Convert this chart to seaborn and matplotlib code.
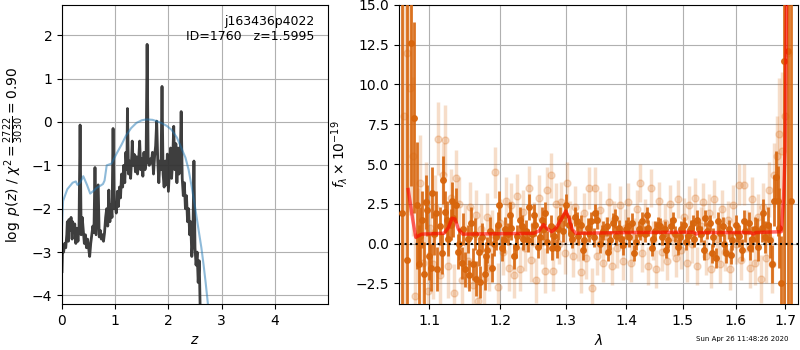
import matplotlib
matplotlib.use('Agg')
import matplotlib.pyplot as plt
import matplotlib.ticker as mticker
import numpy as np
import pandas as pd
import seaborn as sns

# p(z) panel
z_grid = [0.00, 0.01, 0.03, 0.05, 0.07, 0.09, 0.10, 0.12, 0.13, 0.15, 0.17, 0.19, 0.20, 0.22,
          0.24, 0.26, 0.28, 0.30, 0.32, 0.34, 0.36, 0.38, 0.40, 0.42, 0.44, 0.46, 0.48, 0.50,
          0.52, 0.54, 0.56, 0.58, 0.60, 0.62, 0.64, 0.68, 0.70, 0.72, 0.74, 0.76, 0.78, 0.80,
          0.82, 0.84, 0.86, 0.88, 0.90, 0.92, 0.94, 0.96, 0.98, 1.00, 1.02, 1.04, 1.06, 1.08,
          1.10, 1.12, 1.14, 1.16, 1.18, 1.20, 1.22, 1.23, 1.25, 1.27, 1.29, 1.31, 1.32, 1.34,
          1.36, 1.38, 1.40, 1.42, 1.44, 1.46, 1.48, 1.50, 1.52, 1.54, 1.56, 1.58, 1.60, 1.62,
          1.64, 1.66, 1.68, 1.70, 1.72, 1.74, 1.76, 1.78, 1.80, 1.82, 1.84, 1.86, 1.88, 1.90,
          1.92, 1.94, 1.96, 1.98, 2.00, 2.02, 2.04, 2.06, 2.08, 2.10, 2.12, 2.14, 2.16, 2.18,
          2.20, 2.22, 2.24, 2.26, 2.28, 2.30, 2.32, 2.34, 2.36, 2.38, 2.40, 2.42, 2.44, 2.46,
          2.48, 2.50, 2.52, 2.54, 2.56, 2.58, 2.60]
log_pz = [-3.45, -2.95, -3.00, -2.80, -2.90, -2.60, -2.30, -2.75, -2.25, -2.50, -2.20, -2.70, -2.30, -2.50,
          -2.35, -2.80, -2.45, -2.75, -2.40, -0.07, -2.60, -2.20, -2.50, -2.80, -2.60, -2.90, -2.70, -2.90,
          -3.10, -2.80, -2.60, -2.40, -2.55, -1.05, -2.60, -1.45, -2.65, -2.50, -2.70, -2.60, -2.75, -2.55,
          -2.20, -2.00, -2.40, -1.57, -2.30, -1.90, -2.20, -0.15, -2.00, -1.90, -2.10, -1.60, -1.95, -1.50,
          -1.75, -1.20, -1.50, -1.00, -1.40, -0.70, -1.10, 0.31, -1.20, -0.90, -1.30, -0.80, -0.44, -1.00,
          -0.75, -1.15, -0.80, -1.20, -0.90, -0.44, -1.10, -0.85, -1.25, -0.70, -1.10, -0.95, 1.79, -0.90,
          -1.00, -0.85, -0.95, -0.70, -1.20, -0.80, -0.55, 0.02, -0.90, -1.40, -0.90, -1.10, 0.82, -1.20,
          -1.50, -0.90, -1.45, -0.74, -1.60, -1.10, -0.60, -1.30, -0.90, -0.10, -1.10, -0.50, -1.40, -0.60,
          -1.20, -1.00, 0.24, -1.30, -1.70, -1.40, -2.00, -1.70, -2.30, -2.00, -2.60, -2.30, -3.10, -2.70,
          -0.90, -2.90, -3.30, -3.00, -3.70, -3.20, -4.50]

z_prior = [0.00, 0.02, 0.10, 0.20, 0.26, 0.29, 0.34, 0.40, 0.47, 0.53, 0.60, 0.65, 0.72, 0.77, 0.80,
           0.84, 0.93, 1.03, 1.12, 1.20, 1.30, 1.40, 1.50, 1.59, 1.70, 1.78, 1.88, 1.97, 2.06,
           2.16, 2.25, 2.32, 2.38, 2.44, 2.50, 2.57, 2.62, 2.66, 2.70, 2.76]
log_prior = [-2.40, -1.82, -1.55, -1.40, -1.37, -1.45, -1.40, -1.25, -1.45, -1.65, -1.58, -1.52, -1.47, -1.43, -1.35,
             -1.00, -0.96, -0.72, -0.52, -0.32, -0.14, -0.02, 0.04, 0.06, 0.05, 0.02, -0.03, -0.09, -0.18,
             -0.36, -0.62, -0.82, -1.10, -1.51, -1.95, -2.51, -2.90, -3.28, -3.70, -4.40]

# spectrum panel: binned (dark) points
dark_wave = [1.064, 1.070, 1.076, 1.079, 1.083, 1.086, 1.090, 1.093, 1.097, 1.100, 1.104, 1.107, 1.111,
             1.115, 1.118, 1.122, 1.126, 1.129, 1.133, 1.137, 1.141, 1.145, 1.149, 1.153, 1.157, 1.161,
             1.165, 1.169, 1.173, 1.177, 1.181, 1.185, 1.190, 1.194, 1.198, 1.203, 1.207, 1.211, 1.216,
             1.220, 1.225, 1.229, 1.234, 1.238, 1.243, 1.247, 1.252, 1.257, 1.262, 1.266, 1.271, 1.276,
             1.281, 1.286, 1.291, 1.296, 1.300, 1.305, 1.310, 1.315, 1.320, 1.325, 1.330, 1.335, 1.340,
             1.346, 1.351, 1.356, 1.361, 1.367, 1.372, 1.377, 1.383, 1.388, 1.394, 1.399, 1.405, 1.410,
             1.416, 1.421, 1.427, 1.433, 1.438, 1.444, 1.450, 1.456, 1.462, 1.467, 1.473, 1.479, 1.485,
             1.491, 1.497, 1.503, 1.509, 1.515, 1.521, 1.527, 1.533, 1.539, 1.545, 1.551, 1.557, 1.563,
             1.569, 1.575, 1.582, 1.588, 1.594, 1.600, 1.607, 1.613, 1.619, 1.626, 1.632, 1.639, 1.645,
             1.652, 1.658, 1.665, 1.672, 1.678, 1.685, 1.692, 1.698, 1.705, 1.712,
             1.088, 1.095, 1.102, 1.109, 1.117, 1.124, 1.131, 1.139, 1.147, 1.155, 1.163, 1.171,
             1.179, 1.187, 1.196, 1.205, 1.214, 1.223, 1.232, 1.241, 1.250, 1.259, 1.268, 1.278,
             1.288, 1.298, 1.308, 1.318, 1.328, 1.338, 1.348, 1.358, 1.369, 1.380, 1.391, 1.402,
             1.413, 1.424, 1.435, 1.447, 1.459, 1.470, 1.482, 1.494, 1.506, 1.518, 1.530, 1.542,
             1.554, 1.566, 1.578, 1.591, 1.603, 1.616, 1.629, 1.642, 1.655, 1.668, 1.681, 1.688]
dark_flux = [1.9, -1.0, 12.6, 7.9, 2.4, -1.3, 1.5, -1.9, 2.1, -0.8, 3.2, 0.6, -1.6,
             1.1, 4.0, 2.0, 0.3, 1.2, 1.6, 2.4, 0.0, -1.2, -1.6, 0.3, 1.3, -1.3,
             -2.2, -0.5, 0.4, -1.9, -0.4, 0.8, 0.0, 0.4, 2.4, -0.3, 0.9, 0.6, 1.0,
             -0.8, 0.5, 1.5, 0.3, 0.8, 2.3, 0.6, 1.2, -0.2, 1.5, 0.9, 0.1, 1.1,
             0.5, -0.3, 1.6, 0.8, 2.4, 1.2, 0.3, 1.7, 0.5, 1.2, 0.2, 1.0, 1.4,
             0.4, 1.5, 0.0, 0.8, 1.1, 0.2, 1.3, 0.5, 1.0, -0.1, 0.9, 0.4, 1.3,
             0.1, 0.9, 1.4, 0.6, 1.0, -0.3, 0.8, 1.2, 0.4, 0.9, 0.2, 1.1, 0.6,
             -0.2, 0.9, 1.2, 0.5, 1.0, 0.3, 1.5, 0.6, -0.4, 0.8, 1.3, 0.4, -0.9,
             0.7, 1.1, -0.6, 0.9, 0.2, 1.2, 0.5, -0.4, 0.8, 1.3, 0.3, 0.9, -0.2,
             1.0, 0.4, 1.2, -1.3, 2.7, 2.7, -2.5, 11.5, 12.1, 2.7,
             0.5, 2.6, -1.5, 1.9, -0.6, 1.5, 2.7, -0.5, 0.9, -2.0, 0.6, -2.4,
             -0.8, -1.5, 1.2, 0.2, 1.8, -0.2, 1.1, 0.2, 1.8, 0.4, 1.9, -0.3,
             0.9, 1.8, 0.6, 1.4, -0.4, 0.7, 1.9, 0.6, -0.5, 1.6, 0.3, 1.1,
             -0.6, 0.7, 1.8, 0.3, 1.1, -0.4, 1.5, 0.4, 0.1, 1.3, 0.9, 1.6,
             -0.6, 1.4, 0.0, -0.7, 0.7, 1.4, -0.3, 0.8, 1.9, 0.2, 4.2, 1.0]
dark_err = [22.0, 18.0, 9.0, 6.0, 4.0, 2.5, 1.8, 2.0, 1.6, 1.5, 1.6, 1.3, 1.4,
            1.2, 1.5, 1.3, 1.1, 1.0, 1.2, 1.1, 1.0, 1.0, 1.1, 0.9, 1.0, 1.0,
            1.1, 0.9, 0.9, 1.0, 0.8, 0.9, 0.8, 0.8, 0.9, 0.8, 0.8, 0.7, 0.8,
            0.8, 0.7, 0.8, 0.7, 0.7, 0.8, 0.7, 0.7, 0.7, 0.8, 0.7, 0.7, 0.7,
            0.7, 0.6, 0.7, 0.7, 0.7, 0.6, 0.6, 0.6, 0.6, 0.6, 0.6, 0.6, 0.6,
            0.6, 0.6, 0.6, 0.6, 0.6, 0.6, 0.6, 0.6, 0.5, 0.6, 0.6, 0.6, 0.6,
            0.5, 0.5, 0.6, 0.5, 0.5, 0.5, 0.6, 0.5, 0.5, 0.5, 0.5, 0.5, 0.5,
            0.5, 0.5, 0.5, 0.5, 0.5, 0.5, 0.6, 0.5, 0.6, 0.5, 0.5, 0.6, 0.6,
            0.6, 0.6, 0.6, 0.6, 0.6, 0.6, 0.7, 0.7, 0.7, 0.7, 0.8, 0.8, 0.9,
            0.9, 1.0, 1.1, 1.2, 1.6, 2.2, 3.0, 20.0, 20.0, 20.0,
            1.8, 1.7, 1.5, 1.4, 1.3, 1.2, 1.2, 1.1, 1.0, 1.0, 1.0, 1.0,
            0.9, 0.9, 0.8, 0.8, 0.8, 0.7, 0.7, 0.7, 0.7, 0.7, 0.7, 0.7,
            0.7, 0.7, 0.6, 0.6, 0.6, 0.6, 0.6, 0.6, 0.6, 0.6, 0.6, 0.6,
            0.5, 0.5, 0.5, 0.5, 0.5, 0.5, 0.5, 0.5, 0.5, 0.5, 0.5, 0.5,
            0.6, 0.6, 0.6, 0.6, 0.6, 0.7, 0.7, 0.8, 0.9, 1.1, 1.6, 2.5]

# spectrum panel: unbinned (light) points
light_wave = [1.066, 1.071, 1.074, 1.078, 1.081, 1.085, 1.088, 1.092, 1.095, 1.098, 1.101, 1.105, 1.108,
              1.112, 1.115, 1.119, 1.122, 1.126, 1.130, 1.134, 1.137, 1.141, 1.145, 1.149, 1.153, 1.156,
              1.160, 1.164, 1.168, 1.172, 1.176, 1.180, 1.184, 1.188, 1.192, 1.196, 1.200, 1.204, 1.208,
              1.212, 1.216, 1.220, 1.225, 1.229, 1.233, 1.237, 1.242, 1.246, 1.250, 1.254, 1.258, 1.263,
              1.267, 1.271, 1.276, 1.280, 1.284, 1.289, 1.293, 1.298, 1.302, 1.306, 1.311, 1.315, 1.320,
              1.324, 1.329, 1.333, 1.338, 1.342, 1.347, 1.351, 1.356, 1.361, 1.365, 1.370, 1.375, 1.379,
              1.384, 1.389, 1.394, 1.398, 1.403, 1.408, 1.413, 1.418, 1.423, 1.427, 1.432, 1.437, 1.442,
              1.447, 1.452, 1.457, 1.462, 1.467, 1.472, 1.477, 1.482, 1.487, 1.492, 1.497, 1.502, 1.507,
              1.512, 1.517, 1.522, 1.527, 1.533, 1.538, 1.543, 1.548, 1.553, 1.558, 1.564, 1.569, 1.574,
              1.579, 1.585, 1.590, 1.595, 1.601, 1.606, 1.611, 1.617, 1.622, 1.628, 1.633, 1.639, 1.644,
              1.650, 1.655, 1.661, 1.666, 1.672, 1.677, 1.683, 1.688, 1.694, 1.699, 1.705]
light_flux = [8.0, 12.0, 9.8, 5.5, -3.3, 0.5, 3.8, -1.2, 2.6, -3.0, 1.0, -1.3, 2.3,
              6.6, -2.0, 4.3, 6.5, -1.4, 2.9, -3.1, 4.1, 2.5, -2.3, 0.8, -1.1, 2.3,
              -2.6, 1.8, -3.6, 0.9, -2.2, 1.7, -1.5, 0.6, 4.5, -2.7, 1.3, -0.5, 2.7,
              -1.5, 2.4, -2.0, 3.0, -1.6, 2.0, -0.3, 3.5, -1.0, 1.2, -2.3, 2.9, 0.1,
              -1.7, 3.4, 4.3, -1.7, 2.5, 0.0, 2.6, -0.6, 3.8, 1.4, -0.8, 2.3, 0.2,
              -1.8, 1.9, -0.9, 3.5, -2.8, 3.5, -0.8, 2.1, -1.2, 0.5, 2.6, -1.4, 1.5,
              -0.3, 2.4, -1.1, 1.0, 2.6, -1.2, 0.4, 2.2, 3.8, -0.6, 1.6, -1.4, 3.5,
              0.2, -1.6, 2.7, -0.5, 1.3, -1.1, 2.5, 0.4, -0.9, 2.8, -0.4, 1.7, -1.2,
              2.4, 0.0, 2.9, -1.4, 1.1, 2.6, -0.8, 1.9, -1.6, 2.8, 0.3, -1.3, 2.2,
              -0.5, 1.5, -1.6, 2.4, 0.0, 3.7, -1.0, 3.7, 0.8, -1.5, 2.8, -1.2, 1.7,
              -2.2, 2.3, -0.9, 3.4, -1.3, 4.3, 5.5, 6.9, 5.8, 8.0, 12.0]
light_err = [12.0, 10.0, 8.0, 5.0, 4.0, 3.0, 3.0, 2.5, 2.5, 2.5, 2.2, 2.2, 2.0,
             2.3, 2.0, 2.0, 2.2, 2.0, 1.8, 1.8, 1.8, 1.7, 1.7, 1.7, 1.7, 1.6,
             1.6, 1.6, 1.6, 1.6, 1.6, 1.5, 1.5, 1.5, 1.6, 1.5, 1.5, 1.5, 1.5,
             1.5, 1.4, 1.4, 1.4, 1.4, 1.4, 1.4, 1.4, 1.4, 1.4, 1.4, 1.4, 1.4,
             1.4, 1.4, 1.4, 1.3, 1.3, 1.3, 1.3, 1.3, 1.3, 1.3, 1.3, 1.3, 1.3,
             1.3, 1.3, 1.3, 1.3, 1.3, 1.3, 1.2, 1.2, 1.2, 1.2, 1.2, 1.2, 1.2,
             1.2, 1.2, 1.2, 1.2, 1.2, 1.2, 1.2, 1.2, 1.2, 1.2, 1.2, 1.2, 1.2,
             1.2, 1.2, 1.2, 1.2, 1.2, 1.2, 1.2, 1.2, 1.2, 1.2, 1.2, 1.2, 1.2,
             1.2, 1.2, 1.2, 1.2, 1.2, 1.2, 1.2, 1.2, 1.2, 1.2, 1.2, 1.2, 1.2,
             1.2, 1.2, 1.3, 1.3, 1.3, 1.3, 1.3, 1.3, 1.3, 1.3, 1.4, 1.4, 1.4,
             1.5, 1.5, 1.6, 1.7, 1.8, 2.0, 2.5, 3.5, 5.0, 8.0, 12.0]

# best-fit model
model_wave = [1.072, 1.078, 1.082, 1.086, 1.090, 1.120, 1.126, 1.131, 1.135, 1.140, 1.146, 1.250,
              1.258, 1.265, 1.270, 1.278, 1.285, 1.295, 1.300, 1.305, 1.310, 1.316, 1.400, 1.520,
              1.525, 1.530, 1.630, 1.635, 1.640, 1.692, 1.697, 1.700, 1.703]
model_flux = [3.4, 1.5, 0.4, 0.5, 0.6, 0.65, 1.0, 1.6, 1.55, 0.9, 0.6, 0.65,
              0.8, 1.2, 0.95, 0.75, 1.0, 1.7, 2.05, 1.6, 0.9, 0.65, 0.7, 0.72,
              0.6, 0.7, 0.7, 0.6, 0.7, 0.75, 3.0, 6.0, 15.5]

df_pz = pd.DataFrame({'z': z_grid, 'logp': log_pz})
df_prior = pd.DataFrame({'z': z_prior, 'logp': log_prior})
df_model = pd.DataFrame({'wave': model_wave, 'flux': model_flux})

orange = '#d7650c'

fig = plt.figure(figsize=(8, 3.5), dpi=100)
ax1 = fig.add_axes([0.0775, 0.131, 0.3325, 0.855])
ax2 = fig.add_axes([0.49875, 0.131, 0.49875, 0.855])

# p(z)
sns.lineplot(data=df_pz, x='z', y='logp', ax=ax1, color='0.2', lw=2, alpha=0.95,
             sort=False, estimator=None)
sns.lineplot(data=df_prior, x='z', y='logp', ax=ax1, color='tab:blue', lw=1.5, alpha=0.5,
             sort=False, estimator=None)
ax1.set_xlim(0, 5.0)
ax1.set_ylim(-4.2, 2.7)
ax1.set_xticks([0, 1, 2, 3, 4])
ax1.grid(True)
ax1.set_xlabel(r'$z$')
ax1.set_ylabel(r'$\log\ p(z)$' + ' / ' + r'$\chi^2=\frac{2722}{3030}=0.90$')
ax1.text(0.95, 0.965, 'j163436p4022\nID=1760   z=1.5995', ha='right', va='top',
         transform=ax1.transAxes, fontsize=9)

# spectrum
ax2.errorbar(light_wave, light_flux, yerr=light_err, fmt='o', color=orange, alpha=0.22,
             ms=5, elinewidth=2.5, zorder=2)
ax2.errorbar(dark_wave, dark_flux, yerr=dark_err, fmt='o', color=orange, alpha=0.9,
             ms=4, elinewidth=2, zorder=3)
sns.lineplot(data=df_model, x='wave', y='flux', ax=ax2, color='r', lw=2.5, alpha=0.6,
             sort=False, estimator=None, zorder=4)
ax2.axhline(0, color='k', ls=':', lw=1.5, zorder=5)
ax2.set_xscale('log')
ax2.set_xlim(1.06, 1.727)
ax2.set_ylim(-3.8, 15.0)
ax2.xaxis.set_major_locator(mticker.FixedLocator([1.1, 1.2, 1.3, 1.4, 1.5, 1.6, 1.7]))
ax2.xaxis.set_major_formatter(mticker.FormatStrFormatter('%.1f'))
ax2.xaxis.set_minor_locator(mticker.NullLocator())
ax2.set_yticks([-2.5, 0.0, 2.5, 5.0, 7.5, 10.0, 12.5, 15.0])
ax2.grid(True)
ax2.set_xlabel(r'$\lambda$')
ax2.set_ylabel(r'$f_\lambda\times10^{-19}$')

fig.text(0.985, 0.031, 'Sun Apr 26 11:48:26 2020', ha='right', va='center', fontsize=5)

fig.savefig('out.png', dpi=100)
